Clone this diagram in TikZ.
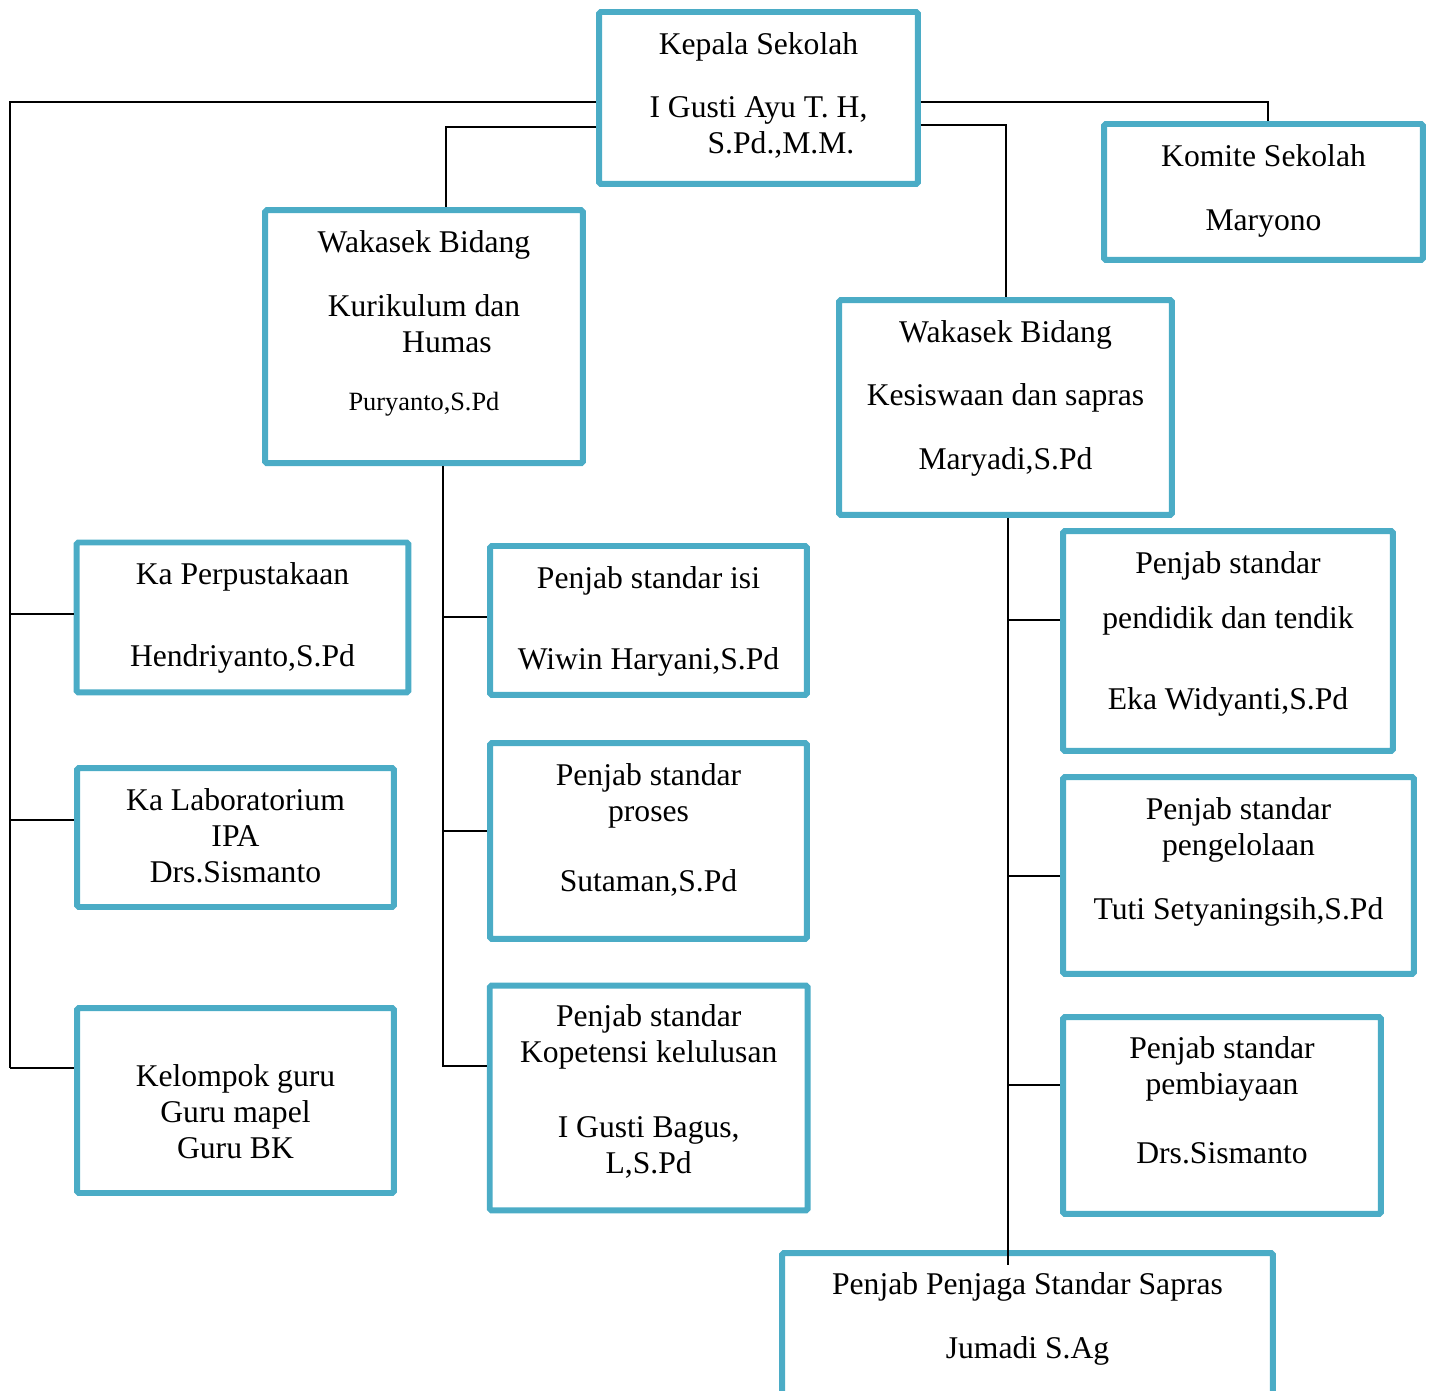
\documentclass[tikz,border=0pt]{standalone}
\usepackage{fontspec}
\setmainfont{Liberation Serif}
\definecolor{boxblue}{RGB}{75,172,198}

\begin{document}
\begin{tikzpicture}[x=0.02cm,y=-0.02cm,
    orgbox/.style={draw=boxblue,line width=3.4pt,rounded corners=1pt,inner sep=0pt},
    boxtext/.style={font=\fontsize{18}{20.5}\selectfont,align=center,inner sep=0pt,anchor=north,yshift=-0.02cm},
    conn/.style={line width=1.3pt}]
    \useasboundingbox (0,0) rectangle (1430,1391);
    \clip (0,0) rectangle (1430,1391);

    % boxes
    \node[orgbox,minimum width=6.38cm,minimum height=3.44cm] (kepsek) at (758.5,98) {};
    \node[orgbox,minimum width=6.38cm,minimum height=2.72cm] (komite) at (1263.5,192) {};
    \node[orgbox,minimum width=6.36cm,minimum height=5.06cm] (wakakur) at (424,336.7) {};
    \node[orgbox,minimum width=6.66cm,minimum height=4.30cm] (wakasis) at (1005.5,407.5) {};
    \node[orgbox,minimum width=6.64cm,minimum height=3.00cm] (perpus) at (242.5,617.5) {};
    \node[orgbox,minimum width=6.34cm,minimum height=2.78cm] (lab) at (235.5,837.5) {};
    \node[orgbox,minimum width=6.34cm,minimum height=3.70cm] (kelompok) at (235.5,1100.5) {};
    \node[orgbox,minimum width=6.34cm,minimum height=2.98cm] (isi) at (648.5,620.5) {};
    \node[orgbox,minimum width=6.34cm,minimum height=3.92cm] (proses) at (648.5,841) {};
    \node[orgbox,minimum width=6.36cm,minimum height=4.50cm] (kompetensi) at (648.7,1098) {};
    \node[orgbox,minimum width=6.60cm,minimum height=4.40cm] (pendidik) at (1228,641) {};
    \node[orgbox,minimum width=7.02cm,minimum height=3.94cm] (pengelolaan) at (1238.5,875.5) {};
    \node[orgbox,minimum width=6.36cm,minimum height=3.94cm] (pembiayaan) at (1222,1115.5) {};
    \node[orgbox,minimum width=9.82cm,minimum height=3.34cm] (penjaga) at (1027.5,1336.5) {};

    % texts
    \node[boxtext] (kepsektxt) at (758.5,31) {Kepala Sekolah\\[15.6pt] I Gusti Ayu T. H,\\ \hspace*{0.9cm}S.Pd.,M.M.};
    \node[boxtext] (komitetxt) at (1263.5,143) {Komite Sekolah\\[15.8pt] Maryono};
    \node[boxtext] (wakakurtxt) at (424,229.7) {Wakasek Bidang\\[15.4pt] Kurikulum dan\\ \hspace*{0.92cm}Humas\\[13pt] {\fontsize{15}{17}\selectfont Puryanto,S.Pd}};
    \node[boxtext] (wakasistxt) at (1005.5,319.7) {Wakasek Bidang\\[15pt] Kesiswaan dan sapras\\[15.8pt] Maryadi,S.Pd};
    \node[boxtext] (perpustxt) at (242.5,561.3) {Ka Perpustakaan\\[26.3pt] Hendriyanto,S.Pd};
    \node[boxtext] (labtxt) at (235.5,787) {Ka Laboratorium\\ IPA\\ Drs.Sismanto};
    \node[boxtext] (kelompoktxt) at (235.5,1063) {Kelompok guru\\ Guru mapel\\ Guru BK};
    \node[boxtext] (isitxt) at (648.5,565) {Penjab standar isi\\[25.5pt] Wiwin Haryani,S.Pd};
    \node[boxtext] (prosestxt) at (648.5,762) {Penjab standar\\ proses\\[19.2pt] Sutaman,S.Pd};
    \node[boxtext] (kompetensitxt) at (648.7,1003) {Penjab standar\\ Kopetensi kelulusan\\[22.1pt] I Gusti Bagus,\\ L,S.Pd};
    \node[boxtext] (pendidiktxt) at (1228,550.7) {Penjab standar\\[10.5pt] pendidik dan tendik\\[25.5pt] Eka Widyanti,S.Pd};
    \node[boxtext] (pengelolaantxt) at (1238.5,796) {Penjab standar\\ pengelolaan\\[15.8pt] Tuti Setyaningsih,S.Pd};
    \node[boxtext] (pembiayaantxt) at (1222,1035.3) {Penjab standar\\ pembiayaan\\[18.8pt] Drs.Sismanto};
    \node[boxtext] (penjagatxt) at (1027.5,1270.7) {Penjab Penjaga Standar Sapras\\[16.2pt] Jumadi S.Ag};

    % lines
    \coordinate (ltrunk) at (10,1068);
    \draw[conn] (kepsek.west |- 0,102) -| (ltrunk);
    \draw[conn] (ltrunk |- 0,614) -- (perpus.west |- 0,614);
    \draw[conn] (ltrunk |- 0,820) -- (lab.west |- 0,820);
    \draw[conn] (ltrunk) -- (kelompok.west |- ltrunk);
    \draw[conn] (kepsek.west |- 0,127) -| (446,0 |- wakakur.north);
    \draw[conn] (kepsek.east |- 0,102) -| (1268,0 |- komite.north);
    \draw[conn] (kepsek.east |- 0,125) -| (1006,0 |- wakasis.north);

    \coordinate (ktrunk) at (443,1066);
    \draw[conn] (ktrunk |- wakakur.south) -- (ktrunk) -- (kompetensi.west |- ktrunk);
    \draw[conn] (ktrunk |- 0,617) -- (isi.west |- 0,617);
    \draw[conn] (ktrunk |- 0,831) -- (proses.west |- 0,831);

    \coordinate (strunk) at (1008,1265);
    \draw[conn] (strunk |- wakasis.south) -- (strunk);
    \draw[conn] (strunk |- 0,620) -- (pendidik.west |- 0,620);
    \draw[conn] (strunk |- 0,876) -- (pengelolaan.west |- 0,876);
    \draw[conn] (strunk |- 0,1085) -- (pembiayaan.west |- 0,1085);
\end{tikzpicture}
\end{document}
